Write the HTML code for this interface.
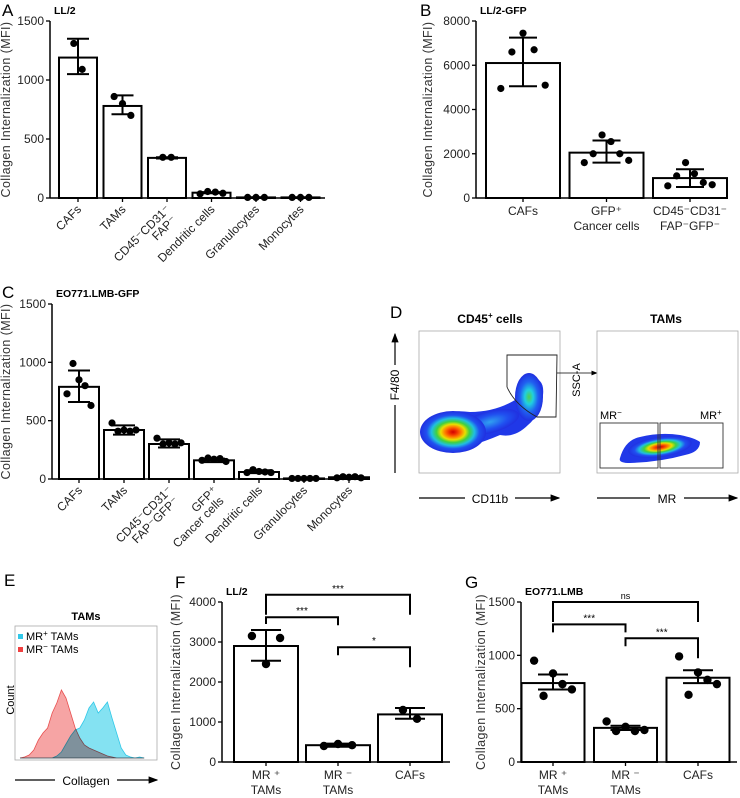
<!DOCTYPE html>
<html><head><meta charset="utf-8">
<style>
html,body{margin:0;padding:0;background:#fff;}
svg{display:block;font-family:"Liberation Sans",Arial,sans-serif;}
</style></head>
<body>
<svg id="fig" width="740" height="798" viewBox="0 0 740 798" xmlns="http://www.w3.org/2000/svg">
<defs>
  <radialGradient id="heat" cx="50%" cy="50%" r="50%">
    <stop offset="0" stop-color="#d00000"/><stop offset="0.12" stop-color="#f03000"/><stop offset="0.25" stop-color="#ff8000"/>
    <stop offset="0.37" stop-color="#e8e000"/><stop offset="0.5" stop-color="#40d040"/>
    <stop offset="0.65" stop-color="#20c0e0"/><stop offset="0.8" stop-color="#2050f0"/>
    <stop offset="1" stop-color="#2030e0"/></radialGradient>
  <radialGradient id="cool" cx="50%" cy="50%" r="50%">
    <stop offset="0" stop-color="#50d050"/><stop offset="0.3" stop-color="#20d0e0"/>
    <stop offset="0.65" stop-color="#2060f0"/><stop offset="1" stop-color="#2030e0"/></radialGradient>
  <radialGradient id="band" cx="50%" cy="50%" r="50%">
    <stop offset="0" stop-color="#30a0f0"/><stop offset="0.6" stop-color="#2050f0"/><stop offset="1" stop-color="#2030e0"/></radialGradient>
  <marker id="arr" markerWidth="8" markerHeight="8" refX="7" refY="4" orient="auto"><path d="M0,1 L8,4 L0,7 z" fill="#000"/></marker>
</defs>
<g id="charts"></g>

<g>
  <text x="390" y="318" font-size="17">D</text>
  <text x="490" y="323" font-size="12" font-weight="bold" text-anchor="middle">CD45<tspan dy="-5" font-size="8">+</tspan><tspan dy="5"> cells</tspan></text>
  <text x="666" y="323" font-size="12" font-weight="bold" text-anchor="middle">TAMs</text>
  <rect x="419" y="331" width="141" height="142" fill="#fff" stroke="#aaa" stroke-width="0.8"/>
  <path d="M430,425 Q440,408 470,412 Q495,412 515,400 Q520,380 530,377 Q545,378 543,395 Q540,415 528,425 Q515,438 500,435 Q470,448 445,450 Q428,448 430,425 Z" fill="#2038e8"/>
  <ellipse cx="490" cy="422" rx="30" ry="11" fill="url(#band)" transform="rotate(-15 490 422)"/>
  <ellipse cx="529" cy="397" rx="14" ry="24" fill="url(#cool)"/>
  <ellipse cx="453" cy="432" rx="33" ry="21" fill="url(#heat)"/>
  <path d="M507,355 L557,355 L556,417 L537,417 Q515,405 507,387 Z" fill="none" stroke="#222" stroke-width="0.9"/>
  <line x1="557" y1="373" x2="597" y2="373" stroke="#000" stroke-width="0.8" marker-end="url(#arr)"/>
  <line x1="395" y1="473" x2="395" y2="334" stroke="#000" stroke-width="1.2" marker-end="url(#arr)"/>
  <rect x="388" y="365" width="14" height="40" fill="#fff"/>
  <text x="0" y="0" font-size="12" text-anchor="middle" transform="translate(399 385) rotate(-90)">F4/80</text>
  <line x1="419" y1="498" x2="559" y2="498" stroke="#000" stroke-width="1.2" marker-end="url(#arr)"/>
  <rect x="465" y="490" width="50" height="16" fill="#fff"/>
  <text x="490" y="503" font-size="12" text-anchor="middle">CD11b</text>

  <rect x="597" y="331" width="141" height="142" fill="#fff" stroke="#aaa" stroke-width="0.8"/>
  <path d="M620,458 Q625,440 640,437 Q660,432 680,435 Q695,438 700,442 Q700,452 685,455 Q660,462 630,463 Q618,463 620,458 Z" fill="#2038e8"/>
  <ellipse cx="660" cy="447" rx="32" ry="10" fill="url(#heat)" transform="rotate(-8 660 447)"/>
  <rect x="600" y="423" width="58" height="45" fill="none" stroke="#333" stroke-width="0.9"/>
  <rect x="660" y="423" width="63" height="45" fill="none" stroke="#333" stroke-width="0.9"/>
  <text x="600" y="419" font-size="11">MR<tspan dy="-4" font-size="8">−</tspan></text>
  <text x="700" y="419" font-size="11">MR<tspan dy="-4" font-size="8">+</tspan></text>
  <text x="0" y="0" font-size="11" text-anchor="middle" transform="translate(580 380) rotate(-90)">SSC-A</text>
  <line x1="597" y1="498" x2="737" y2="498" stroke="#000" stroke-width="1.2" marker-end="url(#arr)"/>
  <rect x="650" y="490" width="34" height="16" fill="#fff"/>
  <text x="667" y="503" font-size="12" text-anchor="middle">MR</text>
</g>

<g>
  <text x="4" y="586" font-size="17">E</text>
  <text x="86" y="620" font-size="11" font-weight="bold" text-anchor="middle">TAMs</text>
  <rect x="15" y="626" width="142" height="134" fill="#fff" stroke="#aaa" stroke-width="0.8"/>
  <g id="hist"></g>
  <rect x="18" y="634" width="5" height="5" fill="#30c8e8"/>
  <text x="26" y="640" font-size="11">MR<tspan dy="-4" font-size="8">+</tspan><tspan dy="4"> TAMs</tspan></text>
  <rect x="18" y="647" width="5" height="5" fill="#f04040"/>
  <text x="26" y="653" font-size="11">MR<tspan dy="-4" font-size="8">−</tspan><tspan dy="4"> TAMs</tspan></text>
  <text x="0" y="0" font-size="11" text-anchor="middle" transform="translate(14 700) rotate(-90)">Count</text>
  <line x1="15" y1="780" x2="157" y2="780" stroke="#000" stroke-width="1.2" marker-end="url(#arr)"/>
  <rect x="55" y="772" width="62" height="16" fill="#fff"/>
  <text x="86" y="785" font-size="12" text-anchor="middle">Collagen</text>
</g>

<script>
const histBins = [0,1,2,3,4,5,6,7,8,9,10,11,12,13,14,15,16,17,18,19,20,21,22,23,24,25,26,27];
const histRed  = [0,1,3,8,18,25,30,45,55,68,60,45,30,20,13,10,8,6,4,2,1,0,0,0,0,0,0,0];
const histBlue = [0,0,0,0,0,0,0,0,2,6,14,22,28,30,38,50,56,45,50,56,40,25,10,3,1,0,1,0];

const catsA = [["CAFs"],["TAMs"],["CD45⁻CD31⁻","FAP⁻"],["Dendritic cells"],["Granulocytes"],["Monocytes"]];
const meanA = [1190,780,340,45,5,5];
const errLoA = [1050,710,335,40,4,4];
const errHiA = [1350,870,345,50,6,6];
const ptsA = [[1310,1090],[860,800,700],[345,345],[35,55,50,40],[5,5,5],[5,5,5]];
const ticksA = [0,500,1000,1500];
const catsB = [["CAFs"],["GFP⁺","Cancer cells"],["CD45⁻CD31⁻","FAP⁻GFP⁻"]];
const meanB = [6100,2050,900];
const errLoB = [5050,1600,500];
const errHiB = [7250,2600,1300];
const ptsB = [[4950,6600,7450,6700,5100],[1600,2000,2850,2550,2000,1700],[550,1000,1600,1100,700,600]];
const ticksB = [0,2000,4000,6000,8000];
const catsC = [["CAFs"],["TAMs"],["CD45⁻CD31⁻","FAP⁻GFP⁻"],["GFP⁺","Cancer cells"],["Dendritic cells"],["Granulocytes"],["Monocytes"]];
const meanC = [790,420,300,160,60,5,15];
const errLoC = [660,380,270,145,50,3,8];
const errHiC = [930,460,340,175,75,8,22];
const ptsC = [[730,990,850,800,630],[480,410,420,410,420],[350,300,310,300,310],[160,180,170,175,150],[55,80,65,60,55],[5,5,5,5,5],[10,20,15,20,10]];
const ticksC = [0,500,1000,1500];
const catsF = [["MR ⁺","TAMs"],["MR ⁻","TAMs"],["CAFs"]];
const meanF = [2900,420,1190];
const errLoF = [2530,380,1080];
const errHiF = [3300,460,1350];
const ptsF = [[3150,2450,3100],[400,450,420],[1300,1080]];
const ticksF = [0,1000,2000,3000,4000];
const sigF = [[0,1,3620,"***"],[0,2,4180,"***"],[1,2,2870,"*"]];
const catsG = [["MR ⁺","TAMs"],["MR ⁻","TAMs"],["CAFs"]];
const meanG = [740,320,790];
const errLoG = [680,300,740];
const errHiG = [820,340,860];
const ptsG = [[950,620,830,730,680],[380,290,330,290,300],[990,630,840,770,730]];
const ticksG = [0,500,1000,1500];
const sigG = [[0,1,1290,"***"],[1,2,1160,"***"],[0,2,1500,"ns"]];

const NS = "http://www.w3.org/2000/svg";
const root = document.getElementById("charts");
function mk(tag, attrs, parent){ const e=document.createElementNS(NS,tag); for(const k in attrs) e.setAttribute(k,attrs[k]); (parent||root).appendChild(e); return e; }

function chart(c){
  const g = mk("g",{});
  
  
  const y = v => c.y0 - (v/c.max)*(c.y0-c.y1);
  const x = i => c.xs + i*c.step;
  const pl = mk("text",{x:c.lx,y:c.ly,"font-size":17},g); pl.textContent=c.letter;
  
  
  const tt = mk("text",{x:c.ax+4,y:c.y1-7,"font-size":10.5,"font-weight":"bold"},g); tt.textContent=c.title;
  
  
  const ya = mk("line",{x1:c.ax,y1:c.y1,x2:c.ax,y2:c.y0,stroke:"#000","stroke-width":1.5},g);
  
  
  const xa = mk("line",{x1:c.ax,y1:c.y0,x2:c.xe,y2:c.y0,stroke:"#000","stroke-width":1.5},g);
  
  
  c.ticks.forEach(t=>{
    mk("line",{x1:c.ax-4,y1:y(t),x2:c.ax,y2:y(t),stroke:"#000","stroke-width":1.3},g);
    const tl = mk("text",{x:c.ax-6,y:y(t)+4,"font-size":12,"text-anchor":"end",fill:"#222"},g); tl.textContent=t;
    
    
  });
  const yt = mk("text",{"font-size":12.5,"text-anchor":"middle",fill:"#333","letter-spacing":"0.4",transform:`translate(${c.ax-c.ytOff} ${(c.y0+c.y1)/2}) rotate(-90)`},g);
  yt.textContent="Collagen Internalization (MFI)";
  
  
  c.cats.forEach((lab,i)=>{
    const cx=x(i);
    const b = mk("rect",{x:cx-c.bw/2,y:y(c.mean[i]),width:c.bw,height:c.y0-y(c.mean[i]),fill:"#fff",stroke:"#000","stroke-width":2},g);
    
    
    mk("line",{x1:cx,y1:c.y0,x2:cx,y2:c.y0+4,stroke:"#000","stroke-width":1.3},g);
    const pts=c.pts[i], n=pts.length, sp=Math.min(c.bw*0.6/(n>1?n-1:1),c.bw*0.22);
    pts.forEach((v,j)=>{
      const d = mk("circle",{cx:cx+(j-(n-1)/2)*sp,cy:y(v),r:c.r,fill:"#000"},g);
      
      
    });
    const cw=c.cap;
    const e = mk("path",{d:`M${cx},${y(c.lo[i])}V${y(c.hi[i])}M${cx-cw},${y(c.lo[i])}H${cx+cw}M${cx-cw},${y(c.hi[i])}H${cx+cw}`,stroke:"#000","stroke-width":2,fill:"none"},g);
    
    
    let t;
    if(c.rot){
      t = mk("text",{"font-size":12,"text-anchor":"end",fill:"#222",transform:`translate(${cx+4} ${c.y0+12}) rotate(-45)`},g);
      lab.forEach((s,k)=>{ const ts=mk("tspan",{x:k?-3:0,dy:k?12:0},t); ts.textContent=s; });
    } else {
      t = mk("text",{"font-size":12,"text-anchor":"middle",fill:"#222"},g);
      lab.forEach((s,k)=>{ const ts=mk("tspan",{x:cx,y:c.y0+17+k*15},t); ts.textContent=s; });
    }
    
    
  });
  (c.sig||[]).forEach(s=>{
    const xa=x(s[0]), xb=x(s[1]), yy=y(s[2]);
    const la = Math.min(y(c.hi[s[0]]), y(c.mean[s[0]]))-6, lb=Math.min(y(c.hi[s[1]]),y(c.mean[s[1]]))-6;
    const p = mk("path",{d:`M${xa},${Math.min(yy+(s[0]===0&&s[1]===2?20:8),la)}V${yy}H${xb}V${Math.min(yy+(s[1]===2?20:8),lb)}`,stroke:"#000","stroke-width":2,fill:"none"},g);
    
    
    const st = mk("text",{x:(xa+xb)/2,y:yy-3,"font-size":s[3]==="ns"?9:10,"text-anchor":"middle"},g); st.textContent=s[3];
    
    
  });
}

chart({name:"chart-a-ll2",letter:"A",lx:2,ly:16,title:"LL/2",ax:50,xe:325,y0:198,y1:21,max:1500,ticks:ticksA,xs:78,step:44.5,bw:38,cap:11,r:3.6,rot:true,ytOff:40,cats:catsA,mean:meanA,lo:errLoA,hi:errHiA,pts:ptsA});
chart({name:"chart-b-ll2-gfp",letter:"B",lx:420,ly:16,title:"LL/2-GFP",ax:476,xe:728,y0:198,y1:21,max:8000,ticks:ticksB,xs:523,step:83.5,bw:74,cap:14,r:3.6,rot:false,ytOff:44,cats:catsB,mean:meanB,lo:errLoB,hi:errHiB,pts:ptsB});
chart({name:"chart-c-eo771",letter:"C",lx:2,ly:298,title:"EO771.LMB-GFP",ax:52,xe:370,y0:479,y1:304,max:1500,ticks:ticksC,xs:79,step:45,bw:40,cap:11,r:3.6,rot:true,ytOff:42,cats:catsC,mean:meanC,lo:errLoC,hi:errHiC,pts:ptsC});
chart({name:"chart-f-ll2-mr",letter:"F",lx:175,ly:588,title:"LL/2",ax:222,xe:450,y0:762,y1:602,max:4000,ticks:ticksF,xs:266,step:72,bw:64,cap:15,r:4.2,rot:false,ytOff:42,cats:catsF,mean:meanF,lo:errLoF,hi:errHiF,pts:ptsF,sig:sigF});
chart({name:"chart-g-eo771-mr",letter:"G",lx:465,ly:588,title:"EO771.LMB",ax:521,xe:737,y0:762,y1:602,max:1500,ticks:ticksG,xs:553,step:72.5,bw:63,cap:15,r:4.2,rot:false,ytOff:36,cats:catsG,mean:meanG,lo:errLoG,hi:errHiG,pts:ptsG,sig:sigG});

const hg = document.getElementById("hist");
const hx = b => 20 + b*4.6, hy = v => 758 - v;
function area(vals, fill, stroke, name){
  let d = `M${hx(histBins[0])},758`;
  histBins.forEach((b,i)=>{ d += `L${hx(b)},${hy(vals[i])}`; });
  d += `L${hx(histBins[histBins.length-1])},758Z`;
  const p = mk("path",{d:d,fill:fill,stroke:stroke,"stroke-width":0.8,style:"mix-blend-mode:multiply"},hg);
  
  
}
area(histBlue,"#84e2f2","#30c8e8","histogram-mr-positive");
area(histRed,"#f6a4a4","#e85050","histogram-mr-negative");
</script>
</svg>
</body></html>
